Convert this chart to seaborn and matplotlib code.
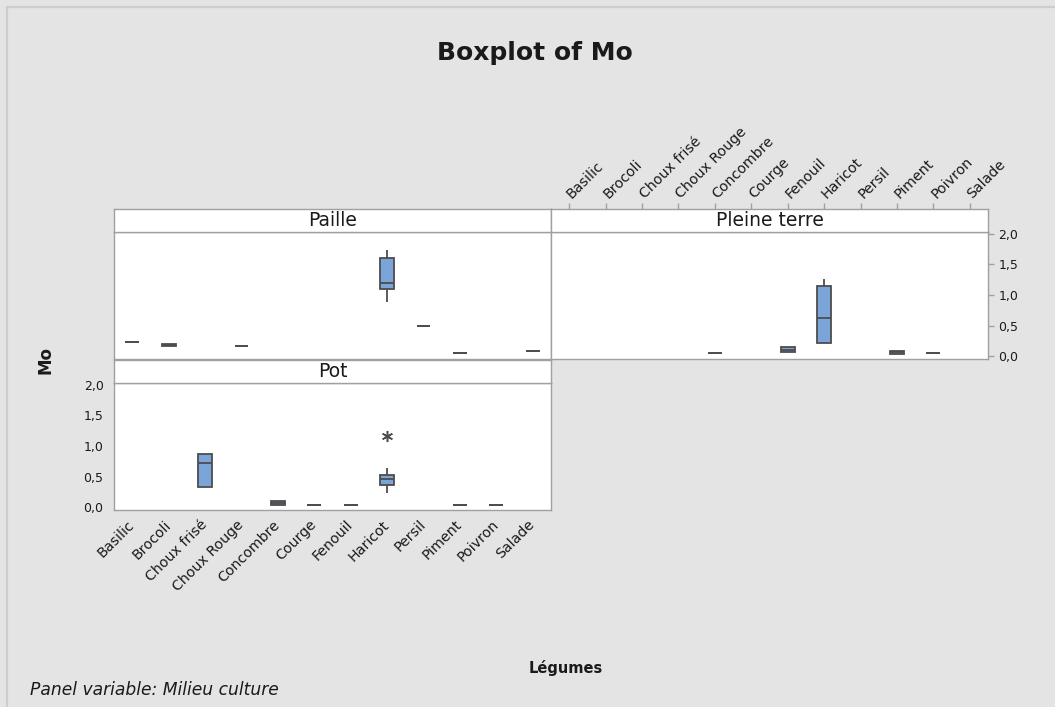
import matplotlib.pyplot as plt
import seaborn as sns
import pandas as pd
from matplotlib.lines import Line2D

# Boxplot of Mo par légume, un panneau par milieu de culture

legumes = ['Basilic', 'Brocoli', 'Choux frisé', 'Choux Rouge', 'Concombre', 'Courge',
           'Fenouil', 'Haricot', 'Persil', 'Piment', 'Poivron', 'Salade']
milieux = ['Paille', 'Pleine terre', 'Pot']

# valeurs de Mo
paille = {
    'Basilic': [0.23],
    'Brocoli': [0.17, 0.17, 0.185, 0.20, 0.20],
    'Choux Rouge': [0.17],
    'Haricot': [0.89, 1.10, 1.20, 1.61, 1.74],
    'Persil': [0.50],
    'Piment': [0.05],
    'Salade': [0.08],
}
pleine_terre = {
    'Concombre': [0.05],
    'Fenouil': [0.07, 0.07, 0.11, 0.15, 0.15],
    'Haricot': [0.22, 0.22, 0.63, 1.14, 1.27],
    'Piment': [0.04, 0.04, 0.065, 0.09, 0.09],
    'Poivron': [0.05],
}
pot = {
    'Choux frisé': [0.33, 0.33, 0.73, 0.875, 0.875],
    'Concombre': [0.04, 0.04, 0.07, 0.10, 0.10],
    'Courge': [0.03],
    'Fenouil': [0.03],
    'Haricot': [0.23, 0.30, 0.36, 0.42, 0.46, 0.50, 0.52, 0.64, 1.16],
    'Piment': [0.03],
    'Poivron': [0.03],
}

y_ticks = [0.0, 0.5, 1.0, 1.5, 2.0]
y_labels = ['0,0', '0,5', '1,0', '1,5', '2,0']

rows = []
for milieu, groupes in zip(milieux, [paille, pleine_terre, pot]):
    for leg, vals in groupes.items():
        for v in vals:
            rows.append((milieu, leg, v))
df = pd.DataFrame(rows, columns=['Milieu culture', 'Légumes', 'Mo'])

sns.set_style('white')
plt.rcParams['font.family'] = ['DejaVu Sans']

W, H = 1055, 707
bg = '#e4e4e4'
box_color = '#7ba4d8'
edge = '#4d4d4d'
spine_color = '#a0a0a0'
text_color = '#1a1a1a'

fig = plt.figure(figsize=(W / 100, H / 100), dpi=100, facecolor=bg)

# bord gris clair en haut et à gauche
fig.add_artist(Line2D([7 / W, 7 / W], [0, 1 - 7 / H], color='#cdcdcd', lw=1.6))
fig.add_artist(Line2D([7 / W, 1], [1 - 7 / H, 1 - 7 / H], color='#cdcdcd', lw=1.6))


def style_spines(ax):
    for s in ax.spines.values():
        s.set_color(spine_color)
        s.set_linewidth(1.0)


def panel(name, left, top):
    pw, ph, sh = 437, 127, 23
    ax = fig.add_axes([left / W, 1 - (top + ph) / H, pw / W, ph / H])
    ax.set_facecolor('white')
    sns.boxplot(data=df[df['Milieu culture'] == name], x='Légumes', y='Mo',
                order=legumes, ax=ax, width=0.38, color=box_color,
                linecolor=edge, linewidth=1.3, saturation=1, showcaps=False,
                flierprops=dict(marker=(6, 2, 0), markersize=8,
                                markeredgecolor=edge, markeredgewidth=1.1))
    ax.set_xlim(-0.5, 11.5)
    ax.set_ylim(-0.045, 2.03)
    ax.set_xlabel('')
    ax.set_ylabel('')
    ax.set_xticks([])
    ax.set_yticks([])
    style_spines(ax)

    strip = fig.add_axes([left / W, 1 - top / H, pw / W, sh / H])
    strip.set_facecolor('white')
    strip.set_xlim(-0.5, 11.5)
    strip.set_xticks([])
    strip.set_yticks([])
    strip.text(0.5, 0.48, name, transform=strip.transAxes, ha='center', va='center',
               fontsize=13.5, color=text_color)
    style_spines(strip)
    return ax, strip


ax_paille, _ = panel('Paille', 114, 232)
ax_pt, strip_pt = panel('Pleine terre', 551, 232)
ax_pot, _ = panel('Pot', 114, 383)

tick_kw = dict(colors=spine_color, labelcolor=text_color, length=4, width=1)

# axe y de gauche (Pot)
ax_pot.set_yticks(y_ticks)
ax_pot.set_yticklabels(y_labels)
ax_pot.tick_params(axis='y', labelsize=9, **tick_kw)

# axe x du bas (Pot)
ax_pot.set_xticks(range(len(legumes)))
ax_pot.set_xticklabels(legumes, rotation=45, ha='right', va='center', rotation_mode='anchor')
ax_pot.tick_params(axis='x', pad=5, labelsize=10.2, **tick_kw)

# axe y de droite (Pleine terre)
ax_pt.yaxis.tick_right()
ax_pt.set_yticks(y_ticks)
ax_pt.set_yticklabels(y_labels)
ax_pt.tick_params(axis='y', labelsize=9, **tick_kw)

# axe x du haut (au-dessus de la bande Pleine terre)
strip_pt.xaxis.tick_top()
strip_pt.set_xticks(range(len(legumes)))
strip_pt.set_xticklabels(legumes, rotation=45, ha='left', va='center', rotation_mode='anchor')
strip_pt.tick_params(axis='x', pad=5, labelsize=10.2, **tick_kw)

fig.text(535 / W, 1 - 53 / H, 'Boxplot of Mo', ha='center', va='center',
         fontsize=18, fontweight='bold', color=text_color)
fig.text(45 / W, 1 - 360 / H, 'Mo', rotation=90, ha='center', va='center',
         fontsize=12, fontweight='bold', color=text_color)
fig.text(566 / W, 1 - 668 / H, 'Légumes', ha='center', va='center',
         fontsize=10.5, fontweight='bold', color=text_color)
fig.text(30 / W, 1 - 690 / H, 'Panel variable: Milieu culture', ha='left', va='center',
         fontsize=12.3, style='italic', color=text_color)

plt.savefig('out.png', dpi=100, facecolor=bg)
